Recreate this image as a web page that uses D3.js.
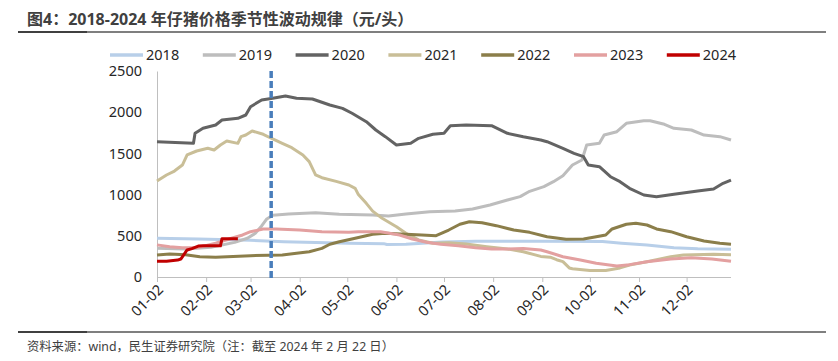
<!DOCTYPE html>
<html>
<head>
<meta charset="utf-8">
<script src="https://cdn.jsdelivr.net/npm/d3@7"></script>
<style>
  body { margin: 0; background: #fff; }
  text { font-family: "Noto Sans", "Noto Sans CJK SC", sans-serif; }
</style>
</head>
<body>
<div id="chart"></div>
<script>
const title = "图4：2018-2024 年仔猪价格季节性波动规律（元/头）";
const source = "资料来源：wind，民生证券研究院（注：截至 2024 年 2 月 22 日）";

const years = ["2018", "2019", "2020", "2021", "2022", "2023", "2024"];
const colors = ["#b8cfe9", "#bdbdbd", "#636363", "#c9be97", "#8b7e4a", "#e3a0a0", "#c00000"];
const monthTicks = ["01-02", "02-02", "03-02", "04-02", "05-02", "06-02", "07-02", "08-02", "09-02", "10-02", "11-02", "12-02"];
const yTicks = [0, 500, 1000, 1500, 2000, 2500];
const markerDate = "03-15";

// [月-日, 元/头]
const s2018 = [["01-02",470],["01-28",460],["03-02",445],["03-23",428],["04-12",420],["05-03",409],["05-25",405],["05-27",394],["06-08",397],["07-01",425],["07-22",435],["09-01",435],["10-10",430],["10-22",410],["11-07",388],["11-24",356],["12-09",342],["12-30",338]];
const s2019 = [["01-02",350],["01-20",340],["02-05",360],["02-20",420],["02-28",470],["03-05",530],["03-09",620],["03-12",700],["03-16",750],["03-26",765],["04-12",780],["04-27",761],["05-18",752],["05-28",740],["06-08",765],["06-23",793],["07-09",801],["07-20",825],["07-31",874],["08-11",934],["08-19",975],["08-25",1040],["09-03",1096],["09-09",1157],["09-15",1229],["09-21",1359],["09-27",1420],["09-30",1602],["10-08",1622],["10-11",1723],["10-19",1763],["10-25",1865],["11-05",1897],["11-09",1897],["11-18",1853],["11-24",1805],["12-05",1784],["12-13",1723],["12-23",1703],["12-30",1663]];
const s2020 = [["01-02",1642],["01-25",1622],["01-26",1744],["01-31",1805],["02-08",1845],["02-12",1905],["02-22",1926],["02-27",1966],["03-02",2067],["03-09",2148],["03-16",2169],["03-24",2197],["03-31",2169],["04-10",2160],["04-21",2087],["04-29",2047],["05-05",1987],["05-14",1885],["05-20",1784],["05-26",1703],["06-02",1602],["06-11",1622],["06-16",1683],["06-25",1732],["07-02",1744],["07-06",1836],["07-16",1845],["08-01",1836],["08-11",1744],["08-21",1703],["09-01",1663],["09-05",1642],["09-15",1562],["09-22",1501],["09-28",1460],["10-01",1359],["10-08",1339],["10-15",1217],["10-21",1157],["10-27",1076],["11-05",995],["11-13",975],["11-24",1003],["12-09",1044],["12-19",1068],["12-25",1137],["12-30",1177]];
const s2021 = [["01-02",1165],["01-08",1238],["01-13",1286],["01-18",1359],["01-21",1481],["01-27",1529],["02-03",1562],["02-07",1541],["02-11",1602],["02-15",1650],["02-22",1622],["02-24",1703],["02-27",1723],["03-03",1772],["03-10",1732],["03-16",1675],["03-22",1622],["03-28",1569],["04-04",1481],["04-08",1400],["04-12",1240],["04-16",1205],["04-25",1160],["05-03",1117],["05-07",1076],["05-09",1000],["05-14",894],["05-18",800],["05-24",712],["06-02",610],["06-08",530],["06-16",450],["06-25",410],["07-05",415],["07-16",400],["07-29",368],["08-11",340],["08-21",307],["09-01",250],["09-07",240],["09-11",210],["09-15",186],["09-19",110],["09-21",100],["10-02",80],["10-12",78],["10-21",110],["10-27",146],["11-07",186],["11-22",246],["11-30",267],["12-19",277],["12-30",270]];
const s2022 = [["01-02",267],["01-10",279],["01-20",270],["01-29",246],["02-08",239],["03-02",259],["03-22",267],["03-31",288],["04-08",307],["04-16",348],["04-21",397],["04-27",428],["05-07",470],["05-18",518],["05-26",530],["06-08",518],["06-18",510],["06-27",501],["07-05",570],["07-12",640],["07-18",671],["07-26",659],["08-04",623],["08-15",570],["08-25",542],["09-05",489],["09-17",457],["09-28",461],["10-06",489],["10-12",510],["10-16",583],["10-25",640],["10-31",652],["11-07",631],["11-13",583],["11-22",550],["12-02",489],["12-13",437],["12-23",409],["12-30",397]];
const s2023 = [["01-02",390],["01-10",368],["01-18",356],["01-28",358],["02-08",409],["02-18",470],["02-25",510],["03-02",550],["03-10",583],["03-18",583],["04-02",570],["04-16",550],["05-03",542],["05-09",550],["05-23",550],["06-04",510],["06-12",461],["06-21",421],["06-30",397],["07-11",380],["07-22",356],["08-01",340],["08-11",340],["08-21",345],["09-01",328],["09-05",307],["09-15",246],["09-26",206],["10-06",166],["10-19",133],["10-27",150],["11-07",186],["11-22",218],["12-05",234],["12-18",218],["12-30",190]];
const s2024 = [["01-02",190],["01-08",190],["01-15",205],["01-17",218],["01-21",328],["01-24",345],["01-28",375],["01-31",378],["02-11",378],["02-12",465],["02-22",465]];

const series = [s2018, s2019, s2020, s2021, s2022, s2023, s2024];

const w = 838;
const h = 361;
const plotLeft = 157, plotRight = 731, plotTop = 71, plotBottom = 277;

const parseDay = d3.timeParse("%m-%d");
const formatDay = d3.timeFormat("%m-%d");

const svg = d3.select("#chart")
    .append("svg")
    .attr("width", w)
    .attr("height", h);

const xScale = d3.scaleTime()
    .domain([parseDay("01-02"), parseDay("12-30")])
    .range([plotLeft, plotRight]);

const yScale = d3.scaleLinear()
    .domain([0, 2500])
    .range([plotBottom, plotTop]);

// title + rules
svg.append("text")
    .attr("x", 27)
    .attr("y", 25)
    .text(title)
    .style("font-size", "16px")
    .style("font-weight", "bold")
    .style("fill", "#404040");

svg.append("line").attr("x1", 18).attr("x2", 826).attr("y1", 32).attr("y2", 32)
    .style("stroke", "#7f7f7f").style("stroke-width", 2);
svg.append("line").attr("x1", 18).attr("x2", 87).attr("y1", 32).attr("y2", 32)
    .style("stroke", "#404040").style("stroke-width", 2);

svg.append("line").attr("x1", 18).attr("x2", 826).attr("y1", 332).attr("y2", 332)
    .style("stroke", "#7f7f7f").style("stroke-width", 2);
svg.append("line").attr("x1", 18).attr("x2", 87).attr("y1", 332).attr("y2", 332)
    .style("stroke", "#404040").style("stroke-width", 2);

svg.append("text")
    .attr("x", 27)
    .attr("y", 351)
    .text(source)
    .style("font-size", "12.3px")
    .style("fill", "#404040");

// axes
const xAxis = d3.axisBottom(xScale)
    .tickValues(monthTicks.map(parseDay))
    .tickFormat(formatDay)
    .tickSizeInner(5)
    .tickSizeOuter(0);

const gx = svg.append("g")
    .attr("id", "x-axis")
    .attr("transform", "translate(0," + plotBottom + ")")
    .call(xAxis);
gx.select(".domain").style("stroke", "#bfbfbf").attr("d", "M" + plotLeft + ",0.5H" + plotRight);
gx.selectAll(".tick line").style("stroke", "#bfbfbf");
gx.selectAll(".tick text")
    .style("font-size", "14.5px")
    .style("fill", "#262626")
    .attr("text-anchor", "end")
    .attr("transform", "translate(3,10) rotate(-45)")
    .attr("y", 0)
    .attr("dy", "0.35em");

const yAxis = d3.axisLeft(yScale)
    .tickValues(yTicks)
    .tickFormat(d3.format("d"))
    .tickSize(0)
    .tickPadding(15);

const gy = svg.append("g")
    .attr("id", "y-axis")
    .attr("transform", "translate(" + plotLeft + ",0)")
    .call(yAxis);
gy.select(".domain").style("stroke", "#bfbfbf");
gy.selectAll(".tick text")
    .style("font-size", "14.5px")
    .style("fill", "#262626");

// lines
const line = d3.line()
    .x(d => xScale(parseDay(d[0])))
    .y(d => yScale(d[1]));

svg.selectAll(".series")
    .data(series)
    .enter()
    .append("path")
    .attr("class", "series")
    .attr("d", line)
    .style("fill", "none")
    .style("stroke", (d, i) => colors[i])
    .style("stroke-width", 3)
    .style("stroke-linejoin", "round");

// marker
svg.append("line")
    .attr("x1", xScale(parseDay(markerDate)))
    .attr("x2", xScale(parseDay(markerDate)))
    .attr("y1", yScale(2500))
    .attr("y2", yScale(-30))
    .style("stroke", "#4a7ebb")
    .style("stroke-width", 3.5)
    .style("stroke-dasharray", "7,3");

// legend
const legend = svg.append("g")
    .attr("id", "legend")
    .attr("transform", "translate(110, 55)");

const item = legend.selectAll("g")
    .data(years)
    .enter()
    .append("g")
    .attr("transform", (d, i) => "translate(" + (i * 92.8) + ",0)");

item.append("line")
    .attr("x1", 0).attr("x2", 33)
    .attr("y1", 0).attr("y2", 0)
    .style("stroke", (d, i) => colors[i])
    .style("stroke-width", 3.5);

item.append("text")
    .attr("x", 36)
    .attr("y", 0)
    .attr("dy", "0.35em")
    .text(d => d)
    .style("font-size", "14.5px")
    .style("fill", "#262626");
</script>
</body>
</html>
